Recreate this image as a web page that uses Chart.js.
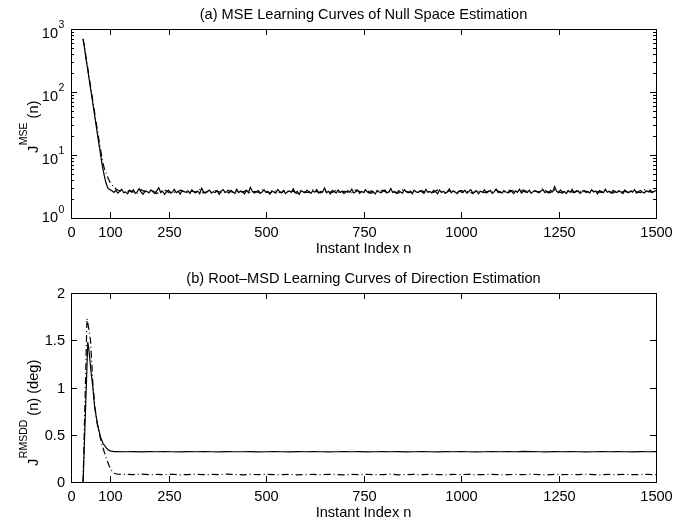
<!DOCTYPE html>
<html>
<head>
<meta charset="utf-8">
<script src="https://cdn.jsdelivr.net/npm/chart.js@4.4.1/dist/chart.umd.min.js"></script>
<style>
  body { margin: 0; background: #fff; }
  canvas { position: absolute; left: 0; }
  #canvas1 { top: 0; }
  #canvas2 { top: 265px; }
</style>
</head>
<body>
<canvas id="canvas1" width="695" height="265"></canvas>
<canvas id="canvas2" width="695" height="264"></canvas>
<script>
// axis ticks
const nTicks = [0, 100, 250, 500, 750, 1000, 1250, 1500];
const mseTicks = [1, 10, 100, 1000];
const mseTickExp = ['0', '1', '2', '3'];
const rmsTicks = [0, 0.5, 1, 1.5, 2];
const rmsTickLabels = ['0', '0.5', '1', '1.5', '2'];

// (a) MSE, transient part
const mseHeadN = [31, 35, 40, 45, 50, 55, 60, 65, 70, 75, 80, 85, 90, 95];
const mseSolidHead = [690, 480, 295, 185, 115, 72, 45, 28, 17.4, 11, 6.9, 4.8, 3.55, 2.95];
const mseDashHeadN = [31, 35, 40, 45, 50, 55, 60, 65, 70, 75, 80, 85, 90, 95, 100, 105, 110, 115];
const mseDashHead = [700, 500, 310, 200, 125, 80, 50, 32, 20, 13, 8.6, 6.2, 5.2, 4.3, 3.7, 3.4, 3.1, 2.9];

// (a) MSE, steady state: solid every 5 from n=100, dash-dot every 10 from n=120
const mseSolidTail = [
  2.82, 2.70, 2.54, 2.76, 2.48, 2.64, 2.86, 2.52, 2.60, 2.42, 2.74, 2.58, 2.80, 2.46, 2.62, 2.92, 2.56, 2.38, 2.70, 2.64,
  2.50, 2.78, 2.60, 2.44, 2.72, 3.02, 2.54, 2.66, 2.36, 2.62, 2.76, 2.48, 2.58, 2.84, 2.52, 2.66, 2.40, 2.74, 2.62, 2.56,
  2.70, 2.46, 2.80, 2.58, 2.52, 2.68, 2.42, 2.96, 2.60, 2.50, 2.64, 2.78, 2.48, 2.62, 2.54, 2.72, 2.38, 2.66, 2.82, 2.56,
  2.62, 2.48, 2.74, 2.60, 2.44, 2.86, 2.54, 2.68, 2.58, 2.42, 2.76, 2.52, 3.08, 2.64, 2.50, 2.60, 2.72, 2.46, 2.58, 2.80,
  2.54, 2.66, 2.40, 2.70, 2.58, 2.48, 2.84, 2.62, 2.52, 2.74, 2.44, 2.60, 2.68, 2.56, 2.90, 2.50, 2.64, 2.38, 2.72, 2.58,
  2.52, 2.76, 2.62, 2.46, 2.70, 2.56, 2.82, 2.48, 2.64, 2.58, 3.00, 2.52, 2.66, 2.42, 2.74, 2.60, 2.50, 2.78, 2.54, 2.68,
  2.44, 2.62, 2.72, 2.56, 2.86, 2.50, 2.60, 2.76, 2.46, 2.64, 2.54, 2.80, 2.58, 2.48, 2.70, 2.62, 2.40, 2.74, 2.58, 2.52,
  2.66, 2.78, 2.50, 2.60, 2.94, 2.54, 2.64, 2.44, 2.72, 2.58, 2.48, 2.82, 2.62, 2.52, 2.68, 2.42, 2.76, 2.60, 2.54, 2.70,
  2.58, 2.46, 2.84, 2.56, 2.64, 2.50, 2.74, 2.60, 2.42, 2.78, 2.54, 2.66, 2.48, 2.62, 2.90, 2.52, 2.70, 2.58, 2.44, 2.68,
  2.60, 2.54, 2.76, 2.48, 2.64, 2.82, 2.52, 2.58, 2.70, 2.42, 2.66, 2.56, 2.80, 2.50, 2.62, 2.74, 2.46, 2.60, 2.88, 2.54,
  2.64, 2.48, 2.72, 2.58, 2.52, 2.78, 2.62, 2.44, 2.70, 2.56, 2.86, 2.50, 2.66, 2.60, 2.54, 2.76, 2.48, 2.62, 2.72, 2.58,
  2.52, 2.68, 2.82, 2.54, 2.62, 2.48, 2.74, 2.60, 3.14, 2.66, 2.50, 2.78, 2.58, 2.64, 2.44, 2.72, 2.56, 2.84, 2.52, 2.62,
  2.70, 2.46, 2.60, 2.76, 2.54, 2.64, 2.50, 2.80, 2.58, 2.68, 2.42, 2.72, 2.62, 2.52, 2.86, 2.56, 2.66, 2.48, 2.74, 2.60,
  2.54, 2.70, 2.58, 2.44, 2.78, 2.62, 2.52, 2.68, 2.56, 2.82, 2.48, 2.64, 2.74, 2.58, 2.50, 2.70, 2.60, 2.78, 2.54, 2.66,
  2.72
];
const mseDashTail = [
  2.78, 2.64, 2.52, 2.74, 2.58, 2.48, 2.82, 2.60, 2.54, 2.70, 2.44, 2.66, 2.78, 2.56, 2.62, 2.50, 2.76, 2.60, 2.52, 2.68,
  2.58, 2.84, 2.48, 2.64, 2.54, 2.72, 2.60, 2.46, 2.78, 2.62, 2.52, 2.68, 2.58, 2.74, 2.50, 2.64, 2.56, 2.80, 2.62, 2.48,
  2.70, 2.58, 2.52, 2.76, 2.60, 2.66, 2.44, 2.72, 2.58, 2.54, 2.82, 2.62, 2.50, 2.68, 2.60, 2.56, 2.74, 2.48, 2.64, 2.58,
  2.52, 2.78, 2.62, 2.54, 2.70, 2.46, 2.66, 2.60, 2.76, 2.52, 2.64, 2.58, 2.48, 2.80, 2.62, 2.54, 2.68, 2.58, 2.72, 2.50,
  2.64, 2.56, 2.78, 2.60, 2.48, 2.70, 2.62, 2.54, 2.74, 2.58, 2.66, 2.44, 2.76, 2.60, 2.52, 2.68, 2.58, 2.82, 2.54, 2.64,
  2.50, 2.72, 2.60, 2.56, 2.80, 2.62, 2.52, 2.70, 2.58, 2.94, 2.64, 2.54, 2.76, 2.60, 2.48, 2.72, 2.62, 2.56, 2.78, 2.58,
  2.66, 2.52, 2.74, 2.60, 2.54, 2.70, 2.62, 2.48, 2.78, 2.58, 2.64, 2.56, 2.72, 2.60, 2.52, 2.82, 2.62, 2.58, 2.70
];

// (b) root-MSD, transient part
const rmsSolidHeadN = [31, 43, 46, 51, 56, 61, 68, 76, 82, 89, 95, 100, 110];
const rmsSolidHead = [0, 1.48, 1.4, 1.18, 1.0, 0.78, 0.61, 0.47, 0.41, 0.37, 0.34, 0.33, 0.322];
const rmsDashHeadN = [31, 41, 45, 50, 56, 61, 68, 76, 82, 89, 95, 100, 106, 112, 120];
const rmsDashHead = [0, 1.73, 1.64, 1.5, 1.05, 0.8, 0.6, 0.45, 0.36, 0.27, 0.2, 0.15, 0.11, 0.09, 0.082];

// (b) steady state: solid every 20 from n=120, dash-dot every 20 from n=140
const rmsSolidTail = [
  0.321, 0.32, 0.322, 0.319, 0.321, 0.32, 0.323, 0.32, 0.319, 0.321,
  0.32, 0.322, 0.32, 0.319, 0.321, 0.32, 0.32, 0.322, 0.319, 0.32,
  0.321, 0.32, 0.319, 0.322, 0.32, 0.321, 0.32, 0.319, 0.32, 0.322,
  0.32, 0.321, 0.319, 0.32, 0.322, 0.32, 0.321, 0.319, 0.32, 0.321,
  0.32, 0.319, 0.322, 0.32, 0.321, 0.32, 0.319, 0.32, 0.323, 0.32,
  0.321, 0.32, 0.324, 0.322, 0.32, 0.319, 0.321, 0.32, 0.322, 0.32,
  0.319, 0.32, 0.321, 0.32, 0.322, 0.32, 0.319, 0.321, 0.32, 0.322
];
const rmsDashTail = [
  0.081, 0.079, 0.083, 0.077, 0.08, 0.078, 0.082, 0.076, 0.079, 0.081,
  0.077, 0.08, 0.078, 0.083, 0.079, 0.076, 0.08, 0.078, 0.082, 0.077,
  0.079, 0.081, 0.076, 0.078, 0.08, 0.077, 0.082, 0.079, 0.076, 0.08,
  0.078, 0.081, 0.077, 0.079, 0.083, 0.076, 0.078, 0.08, 0.077, 0.081,
  0.079, 0.076, 0.08, 0.078, 0.082, 0.077, 0.079, 0.081, 0.076, 0.078,
  0.08, 0.077, 0.083, 0.079, 0.076, 0.081, 0.078, 0.08, 0.077, 0.082,
  0.079, 0.076, 0.08, 0.078, 0.081, 0.077, 0.079, 0.08, 0.078
];

const FONT = '"Liberation Sans", Arial, Helvetica, sans-serif';
const SIZE = 14.6;

const pts = (ns, vs) => ns.map((n, i) => ({ x: n, y: vs[i] }));
const stepN = (start, step, len) => Array.from({ length: len }, (_, i) => start + i * step);
const join = (headN, head, start, step, tail) =>
  pts(headN, head).concat(pts(stepN(start, step, tail.length), tail));

// matlab-style box: frame, inward ticks, labels, title
const frame = {
  id: 'frame',
  afterDraw(chart, args, o) {
    const { ctx, chartArea: a, scales: { x, y } } = chart;
    ctx.save();
    ctx.strokeStyle = '#000';
    ctx.fillStyle = '#000';
    ctx.lineWidth = 1;
    ctx.strokeRect(a.left + 0.5, a.top + 0.5, a.right - a.left, a.bottom - a.top);

    const hLine = (px, x0, x1) => { ctx.beginPath(); ctx.moveTo(x0, px); ctx.lineTo(x1, px); ctx.stroke(); };
    const vLine = (px, y0, y1) => { ctx.beginPath(); ctx.moveTo(px, y0); ctx.lineTo(px, y1); ctx.stroke(); };
    const main = SIZE + 'px ' + FONT;

    // x ticks top and bottom
    ctx.font = main;
    ctx.textAlign = 'center';
    ctx.textBaseline = 'alphabetic';
    x.ticks.forEach((t) => {
      const px = Math.round(x.getPixelForValue(t.value)) + 0.5;
      vLine(px, a.bottom, a.bottom - 6);
      vLine(px, a.top, a.top + 6);
      ctx.fillText(String(t.value), px, a.bottom + 19);
    });

    // y ticks left and right
    y.ticks.forEach((t, i) => {
      const py = Math.round(y.getPixelForValue(t.value)) + 0.5;
      hLine(py, a.left, a.left + 6);
      hLine(py, a.right, a.right - 6);
      if (o.log) {
        const base = Math.min(py + 8, a.bottom + 4);
        ctx.font = main;
        ctx.textAlign = 'right';
        ctx.fillText('10', a.left - 13, base);
        ctx.font = '10.5px ' + FONT;
        ctx.textAlign = 'left';
        ctx.fillText(o.yLabels[i], a.left - 12.5, base - 9.5);
      } else {
        ctx.font = main;
        ctx.textAlign = 'right';
        ctx.textBaseline = 'middle';
        ctx.fillText(o.yLabels[i], a.left - 6, py);
        ctx.textBaseline = 'alphabetic';
      }
    });

    // log minor ticks
    if (o.log) {
      [1, 10, 100].forEach((d) => {
        for (let k = 2; k <= 9; k++) {
          const py = Math.round(y.getPixelForValue(d * k)) + 0.5;
          hLine(py, a.left, a.left + 3);
          hLine(py, a.right, a.right - 3);
        }
      });
    }

    // title and x label
    const cx = (a.left + a.right) / 2;
    ctx.font = main;
    ctx.textAlign = 'center';
    ctx.fillText(o.title, cx, a.top - 10.5);
    ctx.fillText('Instant Index n', cx, a.bottom + 34.5);

    // rotated y label with superscript
    const yl = o.yTitle;
    ctx.translate(yl.x, yl.y);
    ctx.rotate(-Math.PI / 2);
    ctx.textAlign = 'left';
    ctx.font = main;
    ctx.fillText(yl.main, 0, 0);
    let w = ctx.measureText(yl.main).width;
    ctx.font = '10.5px ' + FONT;
    ctx.fillText(yl.sup, w + 0.5, -10.5);
    w += ctx.measureText(yl.sup).width + 0.5;
    ctx.font = main;
    ctx.fillText(yl.rest, w, 0);
    ctx.restore();
  }
};

const axisX = {
  type: 'linear', min: 0, max: 1500,
  grid: { display: false }, border: { display: false }, ticks: { display: false },
  afterBuildTicks: (s) => { s.ticks = nTicks.map((v) => ({ value: v })); }
};

const line = (data, dashed) => ({
  data,
  borderColor: '#000',
  borderWidth: 1.2,
  borderDash: dashed ? [7, 3, 1, 3] : [],
  pointRadius: 0,
  tension: 0,
  fill: false
});

const baseOptions = (padTop, padBottom, yScale, frameOpts) => ({
  responsive: false,
  animation: false,
  layout: { padding: { left: 63, right: 39, top: padTop, bottom: padBottom } },
  scales: { x: axisX, y: yScale },
  plugins: { legend: { display: false }, tooltip: { enabled: false }, frame: frameOpts }
});

new Chart(document.getElementById('canvas1'), {
  type: 'line',
  data: {
    datasets: [
      line(join(mseDashHeadN, mseDashHead, 120, 10, mseDashTail), true),
      line(join(mseHeadN, mseSolidHead, 100, 5, mseSolidTail), false)
    ]
  },
  options: baseOptions(29, 39, {
    type: 'logarithmic', min: 1, max: 1000,
    grid: { display: false }, border: { display: false }, ticks: { display: false },
    afterBuildTicks: (s) => { s.ticks = mseTicks.map((v) => ({ value: v })); }
  }, {
    log: true,
    yLabels: mseTickExp,
    title: '(a) MSE Learning Curves of Null Space Estimation',
    yTitle: { x: 37.5, y: 153, main: 'J', sup: 'MSE', rest: ' (n)' }
  }),
  plugins: [frame]
});

new Chart(document.getElementById('canvas2'), {
  type: 'line',
  data: {
    datasets: [
      line(join(rmsDashHeadN, rmsDashHead, 140, 20, rmsDashTail), true),
      line(join(rmsSolidHeadN, rmsSolidHead, 120, 20, rmsSolidTail), false)
    ]
  },
  options: baseOptions(28, 39, {
    type: 'linear', min: 0, max: 2,
    grid: { display: false }, border: { display: false }, ticks: { display: false },
    afterBuildTicks: (s) => { s.ticks = rmsTicks.map((v) => ({ value: v })); }
  }, {
    log: false,
    yLabels: rmsTickLabels,
    title: '(b) Root\u2013MSD Learning Curves of Direction Estimation',
    yTitle: { x: 37.5, y: 201, main: 'J', sup: 'RMSDD', rest: ' (n) (deg)' }
  }),
  plugins: [frame]
});
</script>
</body>
</html>
